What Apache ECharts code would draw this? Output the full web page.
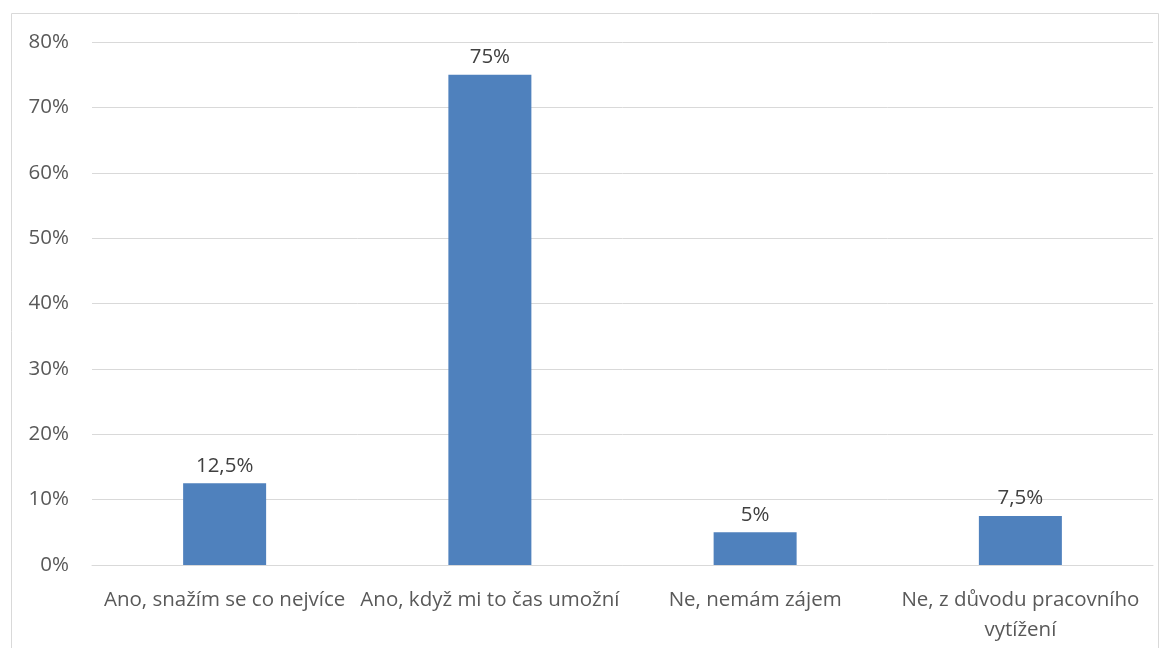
<!DOCTYPE html>
<html><head><meta charset="utf-8">
<script src="https://cdn.jsdelivr.net/npm/echarts@6/dist/echarts.min.js"></script>
<style>html,body{margin:0;padding:0;background:#fff}#c{width:1170px;height:648px}</style>
</head><body><div id="c"></div>
<script>
const categories = ["Ano, snažím se co nejvíce", "Ano, když mi to čas umožní", "Ne, nemám zájem", "Ne, z důvodu pracovního\nvytížení"];
const values = [12.5, 75, 5, 7.5];
const valueLabels = ["12,5%", "75%", "5%", "7,5%"];
const yTicks = [0, 10, 20, 30, 40, 50, 60, 70, 80];

const font = "Open Sans, Lato, sans-serif";
const chart = echarts.init(document.getElementById('c'));
chart.setOption({
  animation: false,
  graphic: [{type:'rect', shape:{x:11.5,y:13.5,width:1147,height:660}, style:{fill:'none', stroke:'#d9d9d9', lineWidth:1}, silent:true}],
  grid: {left: 92, right: 17, top: 42, bottom: 83, containLabel: false},
  xAxis: {
    type: 'category', data: categories,
    axisLine: {show: true, lineStyle: {color: '#d9d9d9', width: 1}},
    axisTick: {show: false},
    axisLabel: {interval: 0, color: '#595959', fontSize: 20.5, fontFamily: font, margin: 20, lineHeight: 30}
  },
  yAxis: {
    type: 'value', min: yTicks[0], max: yTicks[yTicks.length-1], interval: 10,
    axisLine: {show: false}, axisTick: {show: false},
    splitLine: {lineStyle: {color: '#d9d9d9', width: 1}},
    axisLabel: {color: '#595959', fontSize: 20.5, fontFamily: font, margin: 23, formatter: v => v + '%'}
  },
  series: [{
    type: 'bar', data: values, barWidth: 83,
    itemStyle: {color: '#4f81bd'},
    label: {show: true, position: 'top', distance: 7, color: '#404040', fontSize: 20.5, fontFamily: font,
      formatter: p => valueLabels[p.dataIndex]}
  }]
});
</script></body></html>
